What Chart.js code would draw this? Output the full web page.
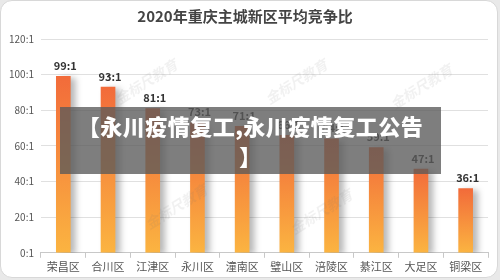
<!DOCTYPE html>
<html>
<head>
<meta charset="utf-8">
<script src="https://cdn.jsdelivr.net/npm/chart.js@4.4.0/dist/chart.umd.min.js"></script>
<style>
  html, body { margin: 0; padding: 0; background: #e9e9e9; }
  #card {
    position: absolute; left: 0; top: 0; width: 496px; height: 276px;
    background: #fff; border: 1px solid #d8d8d8; border-radius: 12px; overflow: hidden;
  }
  #chart-box { position: absolute; left: 0; top: 0; width: 496px; height: 276px; }
  .wm {
    position: absolute; color: rgba(120,120,120,0.10); font: italic bold 14px "Noto Sans CJK SC";
    transform: rotate(-32deg); white-space: nowrap;
  }
  #banner {
    position: absolute; left: 59px; top: 106px; width: 381px; height: 67px;
    background: rgba(90,90,90,0.78); color: #fff; text-align: center;
    font: 900 22px "Noto Sans CJK SC"; letter-spacing: 0.5px; line-height: 30px; padding-top: 3px; box-sizing: border-box;
  }
</style>
</head>
<body>
<div id="card">
  <div id="chart-box"><canvas id="ratio-chart" width="496" height="276"></canvas></div>
  <div class="wm" style="left:110px;top:70px">金标尺教育</div>
  <div class="wm" style="left:260px;top:70px">金标尺教育</div>
  <div class="wm" style="left:385px;top:75px">金标尺教育</div>
  <div class="wm" style="left:140px;top:195px">金标尺教育</div>
  <div class="wm" style="left:285px;top:200px">金标尺教育</div>
  <div id="banner">【永川疫情复工,永川疫情复工公告<br>】</div>
</div>
<script>
// chart data
const districts = ["荣昌区", "合川区", "江津区", "永川区", "潼南区", "璧山区", "涪陵区", "綦江区", "大足区", "铜梁区"];
const ratios = [99, 93, 81, 73, 71, 66, 64, 59, 47, 36];
const yTicks = [0, 20, 40, 60, 80, 100, 120];

// per-bar gradient, orange-red at top to yellow at the bottom
function barGradient(context) {
  const chart = context.chart;
  const yScale = chart.scales.y;
  if (!yScale || !context.parsed) return "#f7943e";
  const top = yScale.getPixelForValue(context.parsed.y);
  const bottom = yScale.getPixelForValue(0);
  if (!isFinite(top) || !isFinite(bottom) || top === bottom) return "#f7943e";
  const g = chart.ctx.createLinearGradient(0, top, 0, bottom);
  g.addColorStop(0, "#f26b3a");
  g.addColorStop(1, "#fbb441");
  return g;
}

const barShadow = {
  id: "barShadow",
  beforeDatasetsDraw(chart) {
    const ctx = chart.ctx;
    ctx.save();
    ctx.shadowColor = "rgba(0,0,0,0.28)";
    ctx.shadowBlur = 6;
    ctx.shadowOffsetX = 5;
    ctx.shadowOffsetY = 2;
  },
  afterDatasetsDraw(chart) {
    chart.ctx.restore();
  }
};

const valueLabels = {
  id: "valueLabels",
  afterDatasetsDraw(chart) {
    const ctx = chart.ctx;
    const meta = chart.getDatasetMeta(0);
    ctx.save();
    ctx.font = "bold 11px 'Noto Sans CJK SC'";
    ctx.fillStyle = "#333";
    ctx.textAlign = "center";
    ctx.textBaseline = "bottom";
    meta.data.forEach((bar, i) => {
      ctx.fillText(ratios[i] + ":1", bar.x + 2, bar.y - 5);
    });
    ctx.restore();
  }
};

const chartCanvas = document.getElementById("ratio-chart");
window.ratioChart = new Chart(chartCanvas, {
  type: "bar",
  data: {
    labels: districts,
    datasets: [{
      data: ratios,
      backgroundColor: barGradient,
      barThickness: 14,
      borderWidth: 0
    }]
  },
  options: {
    responsive: false,
    animation: false,
    layout: { padding: { left: 1, right: 9, top: 4, bottom: 2 } },
    plugins: {
      legend: { display: false },
      tooltip: { enabled: false },
      title: {
        display: true,
        text: "2020年重庆主城新区平均竞争比",
        color: "#444",
        font: { family: "Noto Sans CJK SC", size: 15, weight: "bold" },
        padding: { top: 2, bottom: 14 }
      }
    },
    scales: {
      x: {
        grid: { drawOnChartArea: false, drawTicks: true, tickLength: 5, color: "#c8c8c8" },
        border: { color: "#c8c8c8" },
        ticks: { color: "#555", font: { family: "Noto Sans CJK SC", size: 11 }, padding: 2 }
      },
      y: {
        min: 0,
        max: 120,
        afterBuildTicks(axis) { axis.ticks = yTicks.map(v => ({ value: v })); },
        grid: { color: "#e0e0e0", drawTicks: false },
        border: { display: false },
        ticks: {
          color: "#555",
          padding: 7,
          font: { family: "Noto Sans CJK SC", size: 10 },
          callback: v => v + ":1"
        }
      }
    }
  },
  plugins: [barShadow, valueLabels]
});
</script>
</body>
</html>
